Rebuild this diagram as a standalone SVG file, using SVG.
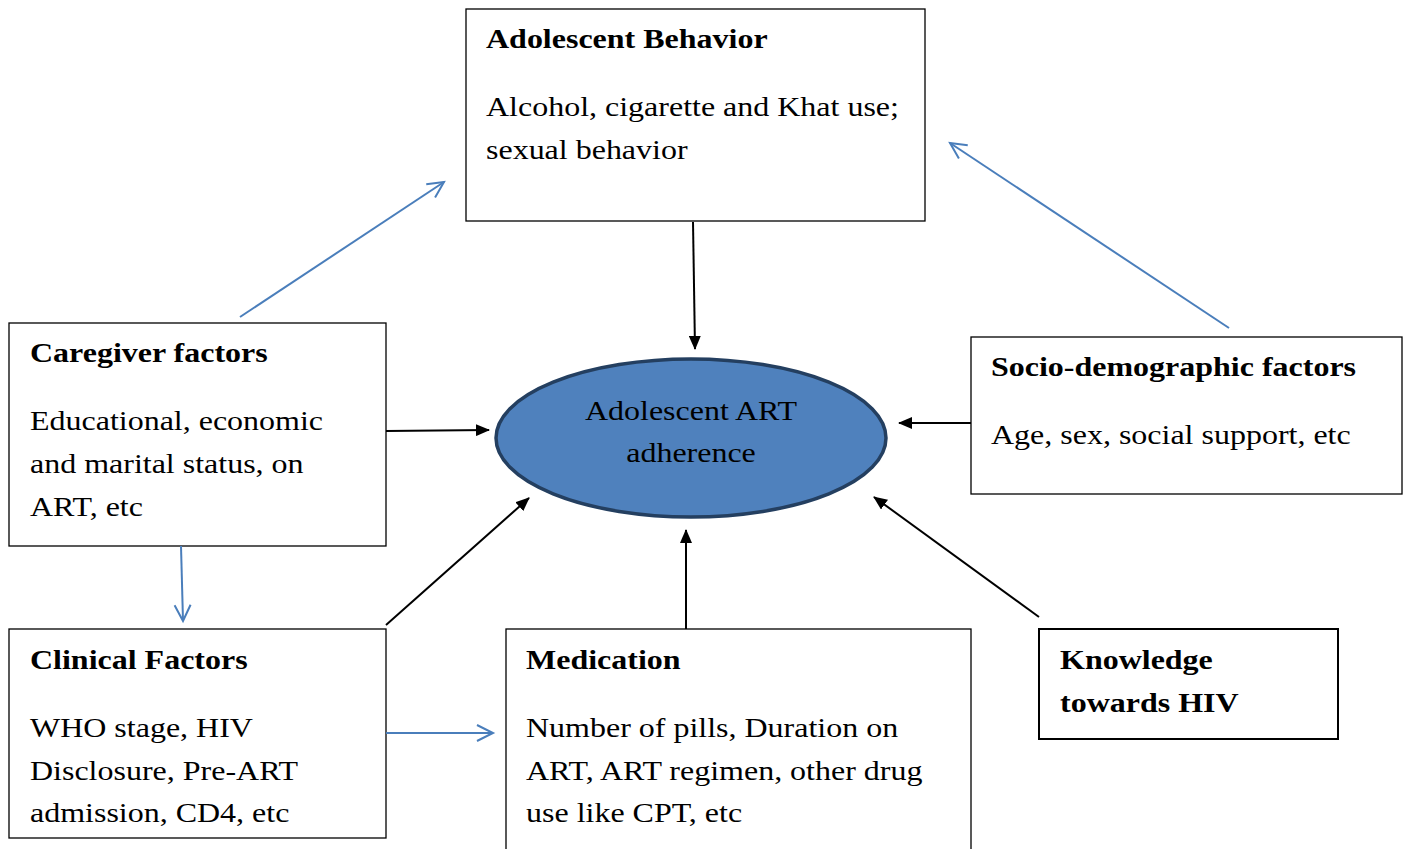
<svg xmlns="http://www.w3.org/2000/svg" width="1411" height="849" viewBox="0 0 1411 849">
<defs>
<marker id="blk" markerWidth="14" markerHeight="12" refX="13" refY="6" orient="auto" markerUnits="userSpaceOnUse">
<path d="M0,0 L14,6 L0,12 Z" fill="#000"/>
</marker>
<marker id="blu" markerWidth="20" markerHeight="20" refX="17" refY="10" orient="auto" markerUnits="userSpaceOnUse">
<path d="M1,2 L17,10 L1,18" fill="none" stroke="#4A7EBB" stroke-width="2"/>
</marker>
</defs>
<style>
.box{fill:#fff;stroke:#000;stroke-width:1.3}
.t{font-family:"Liberation Serif","Times New Roman",serif;font-size:28px;fill:#000}
.b{font-weight:bold}
.k{stroke:#000;stroke-width:2;fill:none}
.u{stroke:#4A7EBB;stroke-width:2;fill:none}
</style>
<rect width="1411" height="849" fill="#fff"/>
<g id="behavior">
<rect class="box" x="466" y="9" width="459" height="212"/>
<g transform="translate(486,0) scale(1.143,1)">
<text class="t b" x="0" y="48">Adolescent Behavior</text>
<text class="t" x="0" y="116">Alcohol, cigarette and Khat use;</text>
<text class="t" x="0" y="159">sexual behavior</text>
</g>
</g>
<g id="caregiver">
<rect class="box" x="9" y="323" width="377" height="223"/>
<g transform="translate(30,0) scale(1.143,1)">
<text class="t b" x="0" y="362">Caregiver factors</text>
<text class="t" x="0" y="430">Educational, economic</text>
<text class="t" x="0" y="473">and marital status, on</text>
<text class="t" x="0" y="516">ART, etc</text>
</g>
</g>
<g id="socio">
<rect class="box" x="971" y="337" width="431" height="157"/>
<g transform="translate(991,0) scale(1.143,1)">
<text class="t b" x="0" y="376">Socio-demographic factors</text>
<text class="t" x="0" y="444">Age, sex, social support, etc</text>
</g>
</g>
<g id="clinical">
<rect class="box" x="9" y="629" width="377" height="209"/>
<g transform="translate(30,0) scale(1.143,1)">
<text class="t b" x="0" y="669">Clinical Factors</text>
<text class="t" x="0" y="737">WHO stage, HIV</text>
<text class="t" x="0" y="780">Disclosure, Pre-ART</text>
<text class="t" x="0" y="822">admission, CD4, etc</text>
</g>
</g>
<g id="medication">
<rect class="box" x="506" y="629" width="465" height="230"/>
<g transform="translate(526,0) scale(1.143,1)">
<text class="t b" x="0" y="669">Medication</text>
<text class="t" x="0" y="737">Number of pills, Duration on</text>
<text class="t" x="0" y="780">ART, ART regimen, other drug</text>
<text class="t" x="0" y="822">use like CPT, etc</text>
</g>
</g>
<g id="knowledge">
<rect x="1039" y="629" width="299" height="110" fill="#fff" stroke="#000" stroke-width="2"/>
<g transform="translate(1060,0) scale(1.143,1)">
<text class="t b" x="0" y="669">Knowledge</text>
<text class="t b" x="0" y="712">towards HIV</text>
</g>
</g>
<g id="adherence">
<ellipse cx="691" cy="438" rx="195" ry="79" fill="#4F81BD" stroke="#243F60" stroke-width="3.5"/>
<g transform="translate(691,0) scale(1.143,1)">
<text class="t" x="0" y="420" text-anchor="middle">Adolescent ART</text>
<text class="t" x="0" y="462" text-anchor="middle">adherence</text>
</g>
</g>
<g id="connectors">
<line class="k" x1="693" y1="222" x2="695" y2="349" marker-end="url(#blk)"/>
<line class="k" x1="386" y1="431" x2="489" y2="430" marker-end="url(#blk)"/>
<line class="k" x1="971" y1="423" x2="899" y2="423" marker-end="url(#blk)"/>
<line class="k" x1="386" y1="625" x2="529" y2="498" marker-end="url(#blk)"/>
<line class="k" x1="686" y1="629" x2="686" y2="530" marker-end="url(#blk)"/>
<line class="k" x1="1039" y1="617" x2="874" y2="497" marker-end="url(#blk)"/>
<line class="u" x1="240" y1="317" x2="444" y2="182" marker-end="url(#blu)"/>
<line class="u" x1="1229" y1="328" x2="950" y2="143" marker-end="url(#blu)"/>
<line class="u" x1="181" y1="546" x2="183" y2="621" marker-end="url(#blu)"/>
<line class="u" x1="386" y1="733" x2="493" y2="733" marker-end="url(#blu)"/>
</g>
</svg>
